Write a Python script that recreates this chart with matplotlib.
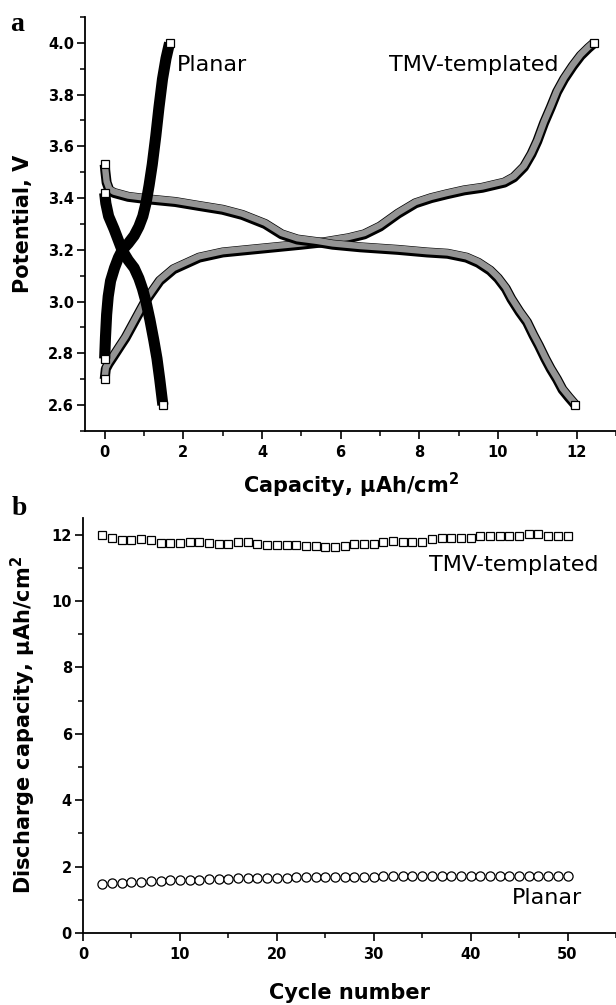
import matplotlib
matplotlib.use("Agg")
import matplotlib.pyplot as plt
import matplotlib.transforms as mtransforms
from matplotlib.ticker import MultipleLocator

# ---------------- Panel a data ----------------
tmv_charge_cap = [0.00, 0.03, 0.10, 0.23, 0.40, 0.53, 0.78, 1.03, 1.40, 1.75, 2.40, 3.00,
                  4.00, 5.00, 5.60, 6.20, 6.60, 7.00, 7.46, 7.90, 8.30, 8.70, 9.14, 9.60,
                  10.16, 10.40, 10.66, 10.85, 11.00, 11.17, 11.34, 11.50, 11.68, 11.90,
                  12.10, 12.30, 12.45]
tmv_charge_v = [2.70, 2.74, 2.76, 2.79, 2.83, 2.86, 2.93, 3.00, 3.08, 3.125, 3.17, 3.19,
                3.205, 3.22, 3.23, 3.245, 3.26, 3.29, 3.34, 3.38, 3.40, 3.415, 3.43, 3.44,
                3.46, 3.48, 3.52, 3.57, 3.62, 3.69, 3.75, 3.81, 3.86, 3.91,
                3.95, 3.98, 4.00]

tmv_dis_cap = [0.00, 0.02, 0.05, 0.12, 0.24, 0.60, 1.13, 1.80, 2.39, 3.00, 3.50, 4.08,
               4.50, 4.90, 5.40, 5.80, 6.50, 7.46, 8.20, 8.72, 9.20, 9.50, 9.80, 10.00,
               10.20, 10.34, 10.55, 10.74, 10.90, 11.04, 11.20, 11.34, 11.50, 11.64,
               11.80, 11.97]
tmv_dis_v = [3.53, 3.50, 3.46, 3.43, 3.42, 3.405, 3.395, 3.385, 3.37, 3.355, 3.335, 3.30,
             3.26, 3.24, 3.23, 3.22, 3.21, 3.20, 3.19, 3.185, 3.17, 3.15, 3.12, 3.09,
             3.05, 3.01, 2.96, 2.92, 2.87, 2.83, 2.78, 2.74, 2.70, 2.66,
             2.63, 2.60]

planar_charge_cap = [0.00, 0.02, 0.05, 0.09, 0.15, 0.25, 0.35, 0.45, 0.60, 0.75, 0.87,
                     0.97, 1.05, 1.13, 1.21, 1.30, 1.38, 1.47, 1.56, 1.65]
planar_charge_v = [2.78, 2.86, 2.95, 3.02, 3.08, 3.13, 3.17, 3.20, 3.225, 3.255, 3.29,
                   3.33, 3.38, 3.45, 3.53, 3.64, 3.75, 3.86, 3.94, 4.00]

planar_dis_cap = [0.00, 0.03, 0.10, 0.24, 0.44, 0.60, 0.75, 0.87, 0.96, 1.05, 1.15,
                  1.25, 1.33, 1.40, 1.48]
planar_dis_v = [3.42, 3.38, 3.33, 3.28, 3.20, 3.16, 3.13, 3.09, 3.05, 3.00, 2.93,
                2.85, 2.78, 2.70, 2.60]

# ---------------- Panel b data ----------------
cycles = list(range(2, 51))
tmv_capacity = [12.00, 11.90, 11.84, 11.85, 11.87, 11.84, 11.75, 11.74, 11.74, 11.79,
                11.79, 11.74, 11.72, 11.72, 11.77, 11.78, 11.72, 11.70, 11.68, 11.68,
                11.68, 11.67, 11.67, 11.64, 11.64, 11.67, 11.72, 11.72, 11.72, 11.79,
                11.82, 11.77, 11.77, 11.77, 11.86, 11.89, 11.89, 11.89, 11.89, 11.96,
                11.97, 11.97, 11.96, 11.95, 12.02, 12.02, 11.97, 11.95, 11.95]
planar_capacity = [1.47, 1.50, 1.51, 1.54, 1.55, 1.56, 1.57, 1.59, 1.59, 1.61,
                   1.61, 1.63, 1.63, 1.64, 1.65, 1.65, 1.66, 1.66, 1.67, 1.67,
                   1.68, 1.68, 1.68, 1.69, 1.69, 1.70, 1.70, 1.70, 1.70, 1.71,
                   1.71, 1.71, 1.71, 1.71, 1.72, 1.72, 1.72, 1.72, 1.72, 1.72,
                   1.72, 1.72, 1.72, 1.72, 1.72, 1.72, 1.72, 1.72, 1.72]

a_xticks = [0, 2, 4, 6, 8, 10, 12]
a_yticks = [2.6, 2.8, 3.0, 3.2, 3.4, 3.6, 3.8, 4.0]
b_xticks = [0, 10, 20, 30, 40, 50]
b_yticks = [0, 2, 4, 6, 8, 10, 12]

plt.rcParams['font.family'] = ['DejaVu Sans']
plt.rcParams['mathtext.default'] = 'regular'

W, H = 616, 1005
fig = plt.figure(figsize=(W / 100, H / 100), dpi=100)

def px_axes(left, top, right, bottom):
    return fig.add_axes([left / W, 1 - bottom / H, (right - left) / W, (bottom - top) / H])

axa = px_axes(85, 17, 616, 431)
axb = px_axes(83, 518, 616, 933)

def style(ax):
    for s in ['top', 'right']:
        ax.spines[s].set_visible(False)
    for s in ['left', 'bottom']:
        ax.spines[s].set_linewidth(1.3)
    ax.tick_params(which='major', direction='out', length=6, width=1.2,
                   labelsize=10.5, pad=2)
    ax.tick_params(which='minor', direction='out', length=3.5, width=1.1)
    ax.tick_params(axis='x', which='major', pad=4)
    for lab in ax.get_xticklabels() + ax.get_yticklabels():
        lab.set_fontweight('bold')

# ---------------- Panel a ----------------
up = mtransforms.offset_copy(axa.transData, fig=fig, x=0, y=0.9, units='points')

def band(ax, x, y, black=False):
    if black:
        ax.plot(x, y, '-', color='black', lw=8.0, solid_capstyle='butt',
                solid_joinstyle='round', zorder=3)
    else:
        ax.plot(x, y, '-', color='black', lw=7.2, solid_capstyle='butt',
                solid_joinstyle='round', zorder=2)
        ax.plot(x, y, '-', color='0.58', lw=4.6, solid_capstyle='butt',
                solid_joinstyle='round', zorder=2, transform=up)

band(axa, tmv_charge_cap, tmv_charge_v)
band(axa, tmv_dis_cap, tmv_dis_v)
band(axa, planar_charge_cap, planar_charge_v, black=True)
band(axa, planar_dis_cap, planar_dis_v, black=True)

for xs, ys, z in [(tmv_charge_cap, tmv_charge_v, 4), (tmv_dis_cap, tmv_dis_v, 4),
                  (planar_charge_cap, planar_charge_v, 5), (planar_dis_cap, planar_dis_v, 5)]:
    axa.plot([xs[0], xs[-1]], [ys[0], ys[-1]], 's', ms=6.2, mfc='white', mec='black',
             mew=0.9, zorder=z, linestyle='none')

axa.set_xlim(-0.5, 13.0)
axa.set_ylim(2.5, 4.1)
axa.set_xticks(a_xticks)
axa.set_yticks(a_yticks)
axa.set_yticklabels([f"{v:.1f}" for v in a_yticks])
axa.xaxis.set_minor_locator(MultipleLocator(1))
axa.yaxis.set_minor_locator(MultipleLocator(0.1))
style(axa)
axa.set_xlabel('Capacity, \u00b5Ah/cm$^{\\mathbf{2}}$', fontsize=15, fontweight='bold',
               labelpad=8)
axa.set_ylabel('Potential, V', fontsize=15, fontweight='bold')
axa.yaxis.set_label_coords(-(85 - 33) / (616 - 85), 0.5)
axa.text(1.84, 3.914, 'Planar', fontsize=16, ha='left', va='center', zorder=6)
axa.text(7.23, 3.914, 'TMV-templated', fontsize=16, ha='left', va='center', zorder=6)

# ---------------- Panel b ----------------
axb.plot(cycles, tmv_capacity, 's', ms=6.2, mfc='white', mec='black', mew=0.9,
         linestyle='none', clip_on=False)
axb.plot(cycles, planar_capacity, 'o', ms=6.6, mfc='white', mec='black', mew=0.9,
         linestyle='none', clip_on=False)
axb.set_xlim(0, 55)
axb.set_ylim(0, 12.5)
axb.set_xticks(b_xticks)
axb.set_yticks(b_yticks)
axb.xaxis.set_minor_locator(MultipleLocator(5))
axb.yaxis.set_minor_locator(MultipleLocator(1))
style(axb)
axb.set_xlabel('Cycle number', fontsize=15, fontweight='bold', labelpad=15)
axb.set_ylabel('Discharge capacity, \u00b5Ah/cm$^{\\mathbf{2}}$', fontsize=15,
               fontweight='bold')
axb.yaxis.set_label_coords(-(83 - 38) / (616 - 83), 0.5)
axb.text(35.7, 11.07, 'TMV-templated', fontsize=16, ha='left', va='center')
axb.text(44.3, 1.05, 'Planar', fontsize=16, ha='left', va='center')

# panel letters
fig.text(10 / W, 1 - 31 / H, 'a', family='Liberation Serif', fontweight='bold',
         fontsize=20, ha='left', va='baseline')
fig.text(12 / W, 1 - 515 / H, 'b', family='Liberation Serif', fontweight='bold',
         fontsize=20, ha='left', va='baseline')

fig.savefig('out.png', dpi=100)
